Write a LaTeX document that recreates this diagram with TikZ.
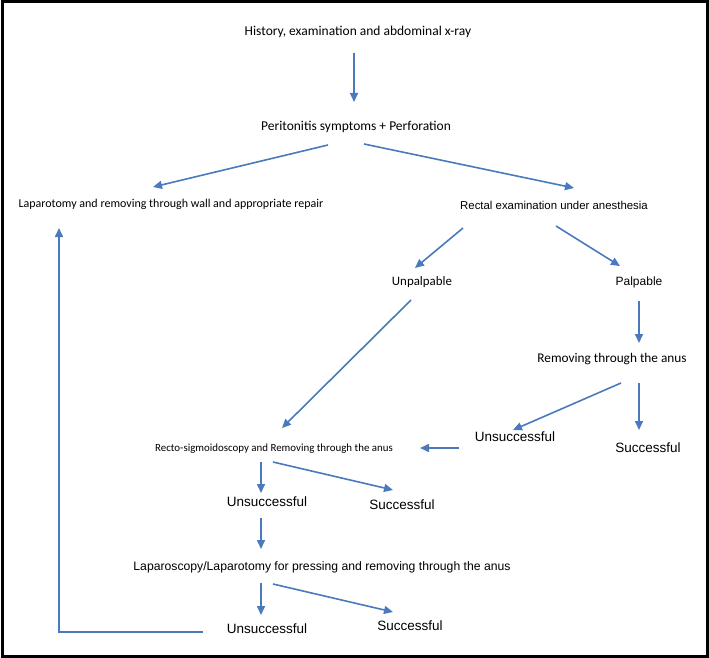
\documentclass[tikz,border=0pt]{standalone}
\usepackage{fontspec}
\setmainfont{Carlito}
\newfontfamily\arialish{Liberation Sans}
\usetikzlibrary{arrows.meta}
\definecolor{flowblue}{RGB}{74,122,188}
\tikzset{
  box/.style={inner sep=0pt, font=\fontsize{13.5}{15}\selectfont},
  sans/.style={inner sep=0pt, font=\arialish\fontsize{12}{14}\selectfont},
  big/.style={inner sep=0pt, font=\arialish\fontsize{13.5}{15}\selectfont},
  flow/.style={flowblue, line width=1.6pt, -{Triangle[length=9pt,width=8pt]}}
}
\begin{document}
\begin{tikzpicture}[x=1pt,y=-1pt]
        \useasboundingbox (0,0) rectangle (709,658);
        \draw[line width=3pt] (2,2) rectangle (707,656);

        % Knoten
        \node[box] (hist) at (358,32)  {History, examination and abdominal x-ray};
        \node[box] (peri) at (356,127) {Peritonitis symptoms + Perforation};
        \node[box, font=\fontsize{12}{14}\selectfont] (lapa) at (171,204) {Laparotomy and removing through wall and appropriate repair};
        \node[sans, font=\arialish\fontsize{11.4}{13}\selectfont] (rect) at (554,205) {Rectal examination under anesthesia};
        \node[box, font=\fontsize{12.9}{14}\selectfont] (unpa) at (422,282) {Unpalpable};
        \node[sans] (palp) at (639,282) {Palpable};
        \node[box, font=\fontsize{13.3}{15}\selectfont] (remo) at (612,359) {Removing through the anus};
        \node[big] (uns1) at (515,437) {Unsuccessful};
        \node[big] (suc1) at (648,448) {Successful};
        \node[box, font=\fontsize{10.9}{13}\selectfont] (sigm) at (274,449) {Recto-sigmoidoscopy and Removing through the anus};
        \node[big] (uns2) at (267,502) {Unsuccessful};
        \node[big] (suc2) at (402,505) {Successful};
        \node[sans, font=\arialish\fontsize{12.2}{14}\selectfont] (lapc) at (322,567) {Laparoscopy/Laparotomy for pressing and removing through the anus};
        \node[big] (uns3) at (267,629) {Unsuccessful};
        \node[big] (suc3) at (410,626) {Successful};
        \coordinate (turn) at (59,632);

        % Pfeile
        \draw[flow] ([shift={(-4,21)}]hist.center) -- ([shift={(-2,-25)}]peri.center);
        \draw[flow] ([shift={(-28,18)}]peri.center) -- ([shift={(-18,-17)}]lapa.center);
        \draw[flow] ([shift={(8,17)}]peri.center) -- ([shift={(20,-17)}]rect.center);
        \draw[flow] ([shift={(-91,23)}]rect.center) -- ([shift={(-7,-14)}]unpa.center);
        \draw[flow] ([shift={(2,21)}]rect.center) -- ([shift={(-19,-16)}]palp.center);
        \draw[flow] ([shift={(-11,18)}]unpa.center) -- ([shift={(8,-21)}]sigm.center);
        \draw[flow] ([shift={(0,19)}]palp.center) -- ([shift={(27,-16)}]remo.center);
        \draw[flow] ([shift={(9,24)}]remo.center) -- ([shift={(-2,-7)}]uns1.center);
        \draw[flow] ([shift={(27,24)}]remo.center) -- ([shift={(-9,-18)}]suc1.center);
        \draw[flow] ([shift={(-56,11)}]uns1.center) -- ([shift={(146,-1)}]sigm.center);
        \draw[flow] ([shift={(-13,13)}]sigm.center) -- ([shift={(-6,-9)}]uns2.center);
        \draw[flow] ([shift={(-1,13)}]sigm.center) -- ([shift={(-9,-15)}]suc2.center);
        \draw[flow] ([shift={(-6,16)}]uns2.center) -- ([shift={(-61,-18)}]lapc.center);
        \draw[flow] ([shift={(-61,16)}]lapc.center) -- ([shift={(-6,-14)}]uns3.center);
        \draw[flow] ([shift={(-49,17)}]lapc.center) -- ([shift={(-17,-14)}]suc3.center);
        \draw[flow] ([shift={(-64,3)}]uns3.center) -- (turn) -- ([shift={(-112,24)}]lapa.center);
\end{tikzpicture}
\end{document}
